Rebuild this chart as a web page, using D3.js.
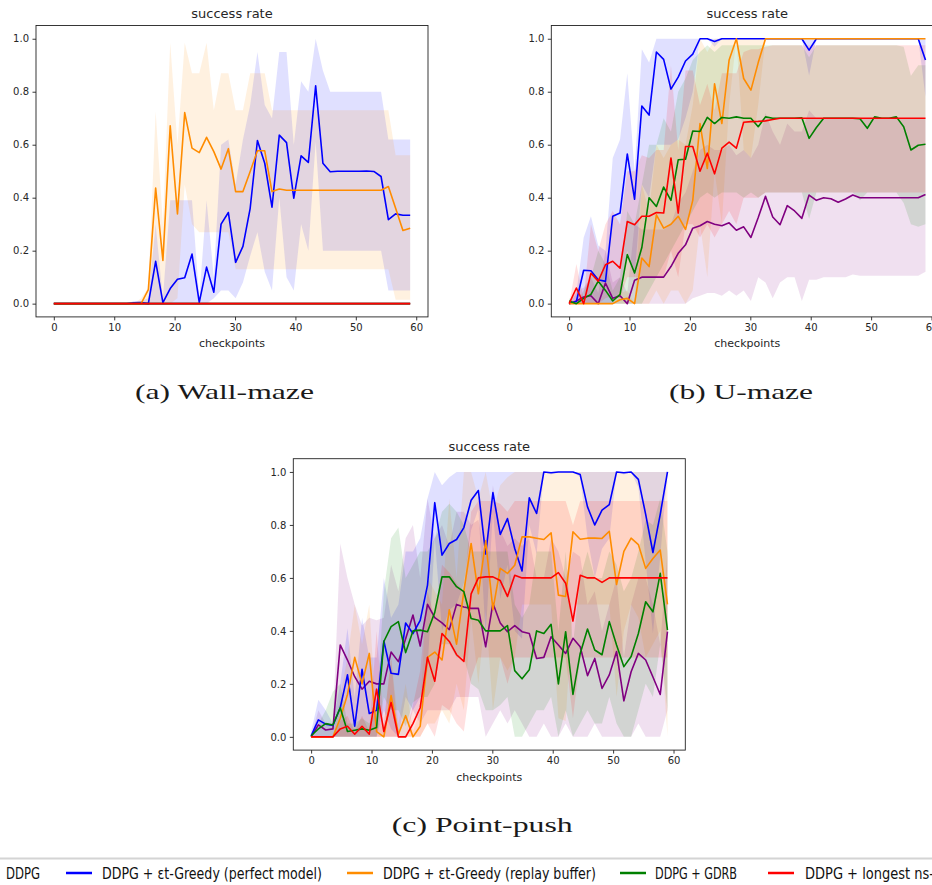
<!DOCTYPE html>
<html>
<head>
<meta charset="utf-8">
<script src="https://cdn.jsdelivr.net/npm/d3@7"></script>
<style>
  html, body { margin: 0; padding: 0; background: #fff; }
  svg { display: block; }
</style>
</head>
<body>
<div id="chart"></div>
<script>
// x positions of the 50 logged checkpoints
const checkpoints = [0, 1.2, 2.41, 3.61, 4.82, 6.02, 7.22, 8.43, 9.63, 10.84,
  12.04, 13.24, 14.45, 15.65, 16.86, 18.06, 19.27, 20.47, 21.67, 22.88,
  24.08, 25.29, 26.49, 27.69, 28.9, 30.1, 31.31, 32.51, 33.71, 34.92,
  36.12, 37.33, 38.53, 39.73, 40.94, 42.14, 43.35, 44.55, 45.76, 46.96,
  48.16, 49.37, 50.57, 51.78, 52.98, 54.18, 55.39, 56.59, 57.8, 59];

const methods = ["DDPG", "DDPG + εt-Greedy (perfect model)", "DDPG + εt-Greedy (replay buffer)", "DDPG + GDRB", "DDPG + longest ns-"];
const colors = ["purple", "blue", "darkorange", "green", "red"];
const xTicks = [0, 10, 20, 30, 40, 50, 60];
const yTicks = [0, 0.2, 0.4, 0.6, 0.8, 1.0];
const captions = ["(a) Wall-maze", "(b) U-maze", "(c) Point-push"];

// ---- (a) Wall-maze ----
const wallFlat = [0,0,0,0,0,0,0,0,0,0, 0,0,0,0,0,0,0,0,0,0, 0,0,0,0,0,0,0,0,0,0,
  0,0,0,0,0,0,0,0,0,0, 0,0,0,0,0,0,0,0,0,0];
const wallBlue = [0,0,0,0,0,0,0,0,0,0,
  0,0.003,0.004,0,0.16,0.004,0.057,0.092,0.098,0.187,
  0.005,0.138,0.043,0.30,0.344,0.156,0.216,0.36,0.616,0.53,
  0.364,0.636,0.608,0.398,0.558,0.533,0.822,0.53,0.498,0.5,
  0.5,0.5,0.5,0.501,0.499,0.48,0.317,0.339,0.334,0.334];
const wallBlueLo = [0,0,0,0,0,0,0,0,0,0, 0,0,0,0,0,0,0,0,0,0,
  0,0,0.02,0.05,0.05,0.02,0.08,0.18,0.27,0.12,
  0.05,0.4,0.1,0.05,0.3,0.2,0.61,0.2,0.2,0.2,
  0.2,0.2,0.2,0.2,0.2,0.2,0.05,0.05,0.05,0.05];
const wallBlueHi = [0,0,0,0,0,0,0,0,0,0,
  0,0.01,0.01,0.02,0.3,0.02,0.39,0.39,0.39,0.39,
  0.02,0.39,0.1,0.6,0.62,0.45,0.62,0.75,0.95,0.75,
  0.7,0.95,0.95,0.6,0.84,0.8,1.0,0.88,0.8,0.8,
  0.8,0.8,0.8,0.8,0.8,0.8,0.62,0.62,0.62,0.62];
const wallOrange = [0,0,0,0,0,0,0,0,0,0,
  0,0,0,0.053,0.436,0.163,0.671,0.339,0.721,0.587,
  0.57,0.628,0.574,0.508,0.585,0.423,0.423,0.499,0.577,0.577,
  0.423,0.433,0.428,0.428,0.428,0.428,0.428,0.428,0.428,0.428,
  0.428,0.428,0.428,0.428,0.428,0.428,0.442,0.36,0.276,0.285];
const wallOrangeLo = [0,0,0,0,0,0,0,0,0,0,
  0,0,0,0,0,0,0,0.02,0.45,0.3,
  0.27,0.27,0.27,0.27,0.27,0.13,0.13,0.13,0.13,0.13,
  0.13,0.13,0.13,0.13,0.13,0.13,0.13,0.13,0.13,0.13,
  0.13,0.13,0.13,0.13,0.13,0.13,0.13,0.015,0.015,0.015];
const wallOrangeHi = [0,0,0,0,0,0,0,0,0,0,
  0,0,0.02,0.06,0.725,0.3,0.985,0.6,0.985,0.87,
  0.87,0.985,0.73,0.87,0.87,0.73,0.73,0.87,0.87,0.87,
  0.73,0.73,0.73,0.73,0.73,0.73,0.73,0.73,0.73,0.73,
  0.73,0.73,0.73,0.73,0.73,0.73,0.73,0.56,0.56,0.56];

// ---- (b) U-maze ----
const uDdpg = [0,0.01,0.025,0.03,0,0.078,0.02,0.03,0,0.088,
  0.1,0.1,0.1,0.1,0.14,0.19,0.222,0.285,0.294,0.31,
  0.3,0.294,0.305,0.277,0.29,0.25,0.325,0.405,0.327,0.298,
  0.37,0.35,0.322,0.41,0.39,0.4,0.396,0.383,0.395,0.41,
  0.4,0.4,0.4,0.4,0.4,0.4,0.4,0.4,0.4,0.412];
const uDdpgLo = [0,0,0,0,0,0,0,0,0,0,
  0,0,0,0,0,0,0,0.02,0.03,0.04,
  0.04,0.03,0.05,0.03,0.05,0.01,0.1,0.08,0.02,0.08,
  0.1,0.1,0.01,0.09,0.09,0.1,0.1,0.1,0.1,0.11,
  0.105,0.105,0.105,0.105,0.105,0.105,0.105,0.105,0.105,0.12];
const uDdpgHi = [0,0.05,0.06,0.1,0.04,0.2,0.08,0.1,0.04,0.3,
  0.28,0.28,0.28,0.28,0.3,0.38,0.42,0.5,0.58,0.6,
  0.58,0.58,0.6,0.56,0.58,0.55,0.6,0.72,0.65,0.6,
  0.68,0.65,0.65,0.73,0.7,0.7,0.7,0.7,0.7,0.7,
  0.7,0.7,0.7,0.7,0.7,0.7,0.7,0.7,0.7,0.7];
const uBlue = [0,0.008,0.126,0.124,0.09,0.084,0.33,0.342,0.565,0.394,
  0.746,0.712,0.95,0.922,0.81,0.855,0.916,0.942,1,1,
  0.99,1,1,1,1,1,1,1,1,1,
  1,1,1,0.957,1,1,1,1,1,1,
  1,1,1,1,1,1,1,1,1,0.92];
const uBlueLo = [0,0,0,0,0,0,0,0.05,0.2,0.1,
  0.45,0.4,0.6,0.6,0.6,0.62,0.7,0.8,1,1,
  0.97,1,1,1,1,1,1,1,1,1,
  1,1,1,0.86,1,1,1,1,1,1,
  1,1,1,1,1,1,1,1,1,0.78];
const uBlueHi = [0,0.04,0.25,0.33,0.22,0.2,0.55,0.62,0.87,0.5,
  0.96,0.91,1,1,1,1,1,1,1,1,
  1,1,1,1,1,1,1,1,1,1,
  1,1,1,1,1,1,1,1,1,1,
  1,1,1,1,1,1,1,1,1,1];
const uOrange = [0,0,0,0,0,0,0,0.015,0.02,0,
  0.172,0.14,0.335,0.285,0.3,0.33,0.28,0.39,0.68,0.51,
  0.83,0.68,0.92,1,0.85,0.806,0.91,1,1,1,
  1,1,1,1,1,1,1,1,1,1,
  1,1,1,1,1,1,1,1,1,1];
const uOrangeLo = [0,0,0,0,0,0,0,0,0,0,
  0,0,0.05,0,0.05,0.05,0,0.05,0.3,0.1,
  0.5,0.3,0.75,1,0.58,0.55,0.75,1,1,1,
  1,1,1,1,1,1,1,1,1,1,
  1,1,1,1,1,1,1,1,1,1];
const uOrangeHi = [0,0,0,0,0,0,0,0.04,0.05,0,
  0.45,0.35,0.6,0.55,0.6,0.62,0.6,0.75,1,0.95,
  1,1,1,1,1,1,1,1,1,1,
  1,1,1,1,1,1,1,1,1,1,
  1,1,1,1,1,1,1,1,1,1];
const uGreen = [0.01,0,0.02,0.035,0.085,0.05,0.01,0.035,0.185,0.116,
  0.212,0.4,0.367,0.44,0.39,0.543,0.545,0.652,0.65,0.703,
  0.68,0.703,0.7,0.705,0.7,0.7,0.668,0.705,0.7,0.7,
  0.7,0.7,0.702,0.624,0.665,0.7,0.7,0.7,0.7,0.7,
  0.698,0.662,0.705,0.7,0.7,0.705,0.668,0.58,0.598,0.602];
const uGreenLo = [0,0,0,0,0,0,0,0,0,0,
  0,0.05,0.1,0.15,0.2,0.25,0.3,0.35,0.4,0.42,
  0.4,0.42,0.42,0.42,0.4,0.42,0.4,0.42,0.42,0.42,
  0.42,0.42,0.42,0.32,0.42,0.42,0.42,0.42,0.42,0.42,
  0.39,0.42,0.42,0.42,0.42,0.42,0.38,0.3,0.29,0.3];
const uGreenHi = [0.02,0,0.05,0.1,0.2,0.15,0.05,0.1,0.35,0.3,
  0.45,0.6,0.6,0.7,0.65,0.8,0.85,0.92,0.95,0.975,
  0.95,0.975,0.975,0.975,0.975,0.975,0.975,0.975,0.975,0.975,
  0.975,0.975,0.975,0.93,0.975,0.975,0.975,0.975,0.975,0.975,
  0.975,0.975,0.975,0.975,0.975,0.975,0.97,0.86,0.9,0.9];
const uRed = [0,0.059,0,0.115,0.085,0.147,0.16,0.134,0.31,0.298,
  0.33,0.33,0.344,0.342,0.55,0.342,0.593,0.593,0.5,0.568,
  0.49,0.587,0.61,0.587,0.685,0.687,0.688,0.69,0.695,0.7,
  0.7,0.7,0.7,0.7,0.7,0.7,0.7,0.7,0.7,0.7,
  0.7,0.7,0.7,0.7,0.7,0.7,0.7,0.7,0.7,0.7];
const uRedLo = [0,0,0,0,0,0.02,0.03,0.02,0.1,0.1,
  0.1,0.1,0.1,0.1,0.2,0.1,0.3,0.3,0.25,0.3,
  0.25,0.3,0.35,0.3,0.4,0.4,0.4,0.42,0.42,0.42,
  0.42,0.42,0.42,0.42,0.42,0.42,0.42,0.42,0.42,0.42,
  0.42,0.42,0.42,0.42,0.42,0.42,0.42,0.42,0.42,0.42];
const uRedHi = [0,0.15,0.02,0.3,0.2,0.3,0.35,0.3,0.5,0.5,
  0.56,0.55,0.58,0.58,0.9,0.58,0.88,0.88,0.75,0.83,
  0.73,0.87,0.87,0.87,0.95,0.96,0.96,0.97,0.975,0.975,
  0.975,0.975,0.975,0.975,0.975,0.975,0.975,0.975,0.975,0.975,
  0.975,0.975,0.975,0.975,0.975,0.975,0.975,0.975,0.975,0.975];

// ---- (c) Point-push ----
const pDdpg = [0,0.045,0.026,0.03,0.347,0.29,0.227,0.18,0.21,0.2,
  0.2,0.32,0.284,0.37,0.46,0.343,0.5,0.45,0.43,0.405,
  0.5,0.49,0.485,0.485,0.34,0.504,0.43,0.397,0.42,0.397,
  0.39,0.296,0.3,0.378,0.347,0.315,0.372,0.34,0.231,0.296,
  0.183,0.234,0.322,0.136,0.246,0.315,0.29,0.226,0.16,0.397];
const pDdpgLo = [0,0,0,0,0,0,0,0,0,0,
  0,0,0,0,0.1,0.05,0.1,0.1,0.1,0.1,
  0.15,0.15,0.15,0.15,0,0.05,0.1,0.05,0.1,0.05,
  0,0,0.05,0,0,0.05,0,0,0,0.05,
  0,0,0,0,0,0.05,0,0,0,0.1];
const pDdpgHi = [0,0.1,0.05,0.05,0.73,0.6,0.5,0.42,0.45,0.44,
  0.45,0.65,0.55,0.75,0.8,0.6,0.9,0.75,0.8,0.72,
  0.85,0.85,0.8,0.82,0.68,0.95,0.78,0.72,0.75,0.72,
  0.75,0.6,0.6,0.75,0.7,0.6,0.7,0.68,0.5,0.55,
  0.4,0.5,0.6,0.3,0.5,0.6,0.6,0.5,0.35,0.7];
const pBlue = [0.004,0.064,0.048,0.043,0.11,0.234,0.04,0.255,0.088,0.1,
  0.362,0.24,0.236,0.43,0.39,0.44,0.573,0.884,0.686,0.73,
  0.745,0.79,0.893,0.93,0.69,0.922,0.764,0.824,0.711,0.626,
  0.902,0.843,1,0.997,1,1,1,0.99,0.868,0.8,
  0.856,0.877,1,0.997,1,0.972,0.84,0.696,0.84,1];
const pBlueLo = [0,0,0,0,0,0,0,0,0,0,
  0.1,0.03,0,0.15,0.1,0.15,0.25,0.75,0.4,0.48,
  0.5,0.58,0.78,0.86,0.38,0.85,0.52,0.65,0.4,0.37,
  0.8,0.69,1,0.99,1,1,1,0.98,0.75,0.6,
  0.71,0.75,1,0.99,1,0.94,0.66,0.39,0.68,1];
const pBlueHi = [0.02,0.14,0.1,0.05,0.2,0.41,0.15,0.45,0.3,0.3,
  0.6,0.45,0.5,0.7,0.7,0.75,0.9,1,0.95,0.98,
  1,1,1,1,1,1,1,1,1,1,
  1,1,1,1,1,1,1,1,1,1,
  1,1,1,1,1,1,1,1,1,1];
const pOrange = [0,0,0,0,0.07,0.16,0.3,0.2,0.315,0.02,
  0,0.156,0.01,0.08,0,0.04,0.3,0.32,0.29,0.48,
  0.35,0.55,0.73,0.54,0.74,0.48,0.636,0.617,0.648,0.755,
  0.755,0.75,0.745,0.77,0.535,0.53,0.774,0.746,0.75,0.75,
  0.749,0.776,0.575,0.7,0.75,0.726,0.636,0.673,0.705,0.5];
const pOrangeLo = [0,0,0,0,0,0,0,0,0,0,
  0,0,0,0,0,0,0.05,0.05,0.1,0.05,
  0.2,0.1,0.45,0.2,0.48,0.1,0.3,0.25,0.3,0.5,
  0.5,0.5,0.5,0.5,0.07,0.06,0.5,0.5,0.5,0.5,
  0.5,0.5,0.15,0.4,0.5,0.45,0.3,0.35,0.4,0];
const pOrangeHi = [0,0,0,0,0.15,0.3,0.5,0.35,0.5,0.05,
  0.05,0.3,0.05,0.2,0.02,0.1,0.6,0.55,0.5,0.9,
  0.6,1,1,0.9,1,0.85,0.95,0.98,1,1,
  1,1,1,1,1,1,1,1,1,1,
  1,1,1,1,1,1,1,1,1,1];
const pGreen = [0.004,0.03,0.05,0.045,0.11,0.02,0.025,0.03,0.025,0.035,
  0.36,0.416,0.435,0.318,0.4,0.403,0.397,0.47,0.604,0.604,
  0.567,0.548,0.447,0.44,0.4,0.4,0.4,0.42,0.25,0.219,
  0.253,0.4,0.39,0.425,0.2,0.397,0.16,0.315,0.407,0.328,
  0.31,0.435,0.347,0.265,0.303,0.39,0.51,0.472,0.617,0.403];
const pGreenLo = [0,0,0,0,0,0,0,0,0,0,
  0.15,0.1,0.1,0.04,0.13,0.15,0.15,0.2,0.35,0.35,
  0.3,0.3,0.2,0.18,0.1,0.1,0.12,0.15,0,0,
  0.05,0.1,0.1,0.15,0,0.1,0,0.05,0.1,0.05,
  0.05,0.15,0.05,0,0,0.1,0.2,0.15,0.35,0.1];
const pGreenHi = [0,0.05,0.1,0.17,0.2,0.05,0.05,0.07,0.05,0.1,
  0.55,0.75,0.79,0.6,0.65,0.7,0.7,0.75,0.85,0.88,
  0.85,0.8,0.7,0.7,0.7,0.7,0.7,0.7,0.5,0.45,
  0.5,0.7,0.7,0.7,0.4,0.7,0.35,0.6,0.7,0.6,
  0.6,0.7,0.65,0.55,0.6,0.7,0.82,0.8,0.9,0.7];
const pRed = [0,0,0,0,0.03,0.04,0.01,0.04,0.01,0.18,
  0.02,0.13,0,0,0.05,0.11,0.3,0.21,0.39,0.36,
  0.31,0.285,0.54,0.6,0.604,0.604,0.59,0.53,0.61,0.6,
  0.6,0.6,0.6,0.6,0.62,0.58,0.437,0.61,0.6,0.6,
  0.583,0.6,0.6,0.6,0.6,0.6,0.6,0.6,0.6,0.6];
const pRedLo = [0,0,0,0,0,0,0,0,0,0,
  0,0,0,0,0,0,0.05,0,0.12,0.1,
  0.05,0.02,0.22,0.3,0.3,0.3,0.3,0.2,0.3,0.3,
  0.3,0.3,0.3,0.3,0.3,0.3,0.07,0.3,0.3,0.3,
  0.3,0.3,0.3,0.3,0.3,0.3,0.3,0.3,0.3,0.3];
const pRedHi = [0,0,0,0,0.06,0.08,0.02,0.08,0.02,0.4,
  0.05,0.3,0,0,0.12,0.25,0.55,0.45,0.65,0.62,
  0.58,0.55,0.85,0.89,0.89,0.89,0.88,0.85,0.89,0.89,
  0.89,0.89,0.89,0.89,0.89,0.89,0.8,0.89,0.89,0.89,
  0.89,0.89,0.89,0.89,0.89,0.89,0.89,0.89,0.89,0.89];

// [mean, low, high] per method, same order as methods
const panelSeries = [
  [[wallFlat, wallFlat, wallFlat], [wallBlue, wallBlueLo, wallBlueHi], [wallOrange, wallOrangeLo, wallOrangeHi],
   [wallFlat, wallFlat, wallFlat], [wallFlat, wallFlat, wallFlat]],
  [[uDdpg, uDdpgLo, uDdpgHi], [uBlue, uBlueLo, uBlueHi], [uOrange, uOrangeLo, uOrangeHi],
   [uGreen, uGreenLo, uGreenHi], [uRed, uRedLo, uRedHi]],
  [[pDdpg, pDdpgLo, pDdpgHi], [pBlue, pBlueLo, pBlueHi], [pOrange, pOrangeLo, pOrangeHi],
   [pGreen, pGreenLo, pGreenHi], [pRed, pRedLo, pRedHi]]
];

const W = 932, H = 885;
const boxW = 392, boxH = 291.4;
const layout = [
  { left: 36, top: 25.5, capX: 135, capW: 179, capY: 399 },
  { left: 551.3, top: 25.5, capX: 669, capW: 144, capY: 399 },
  { left: 293.3, top: 458.7, capX: 391.7, capW: 181, capY: 832 }
];

const svg = d3.select("#chart").append("svg")
  .attr("width", W)
  .attr("height", H)
  .style("font-family", "'DejaVu Sans', sans-serif");

svg.append("rect").attr("width", W).attr("height", H).attr("fill", "#fff");

layout.forEach((p, k) => {
  const x = d3.scaleLinear().domain([-2.95, 61.95]).range([p.left, p.left + boxW]);
  const y = d3.scaleLinear().domain([-0.05, 1.05]).range([p.top + boxH, p.top]);
  const g = svg.append("g");

  g.append("clipPath").attr("id", "clip" + k)
    .append("rect").attr("x", p.left).attr("y", p.top).attr("width", boxW).attr("height", boxH);

  const plot = g.append("g").attr("clip-path", `url(#clip${k})`);

  const area = d3.area()
    .x((d, i) => x(checkpoints[i]))
    .y0(d => y(d[0]))
    .y1(d => y(d[1]));
  const line = d3.line()
    .x((d, i) => x(checkpoints[i]))
    .y(d => y(d));

  panelSeries[k].forEach((s, j) => {
    plot.append("path")
      .datum(d3.zip(s[1], s[2]))
      .attr("d", area)
      .attr("fill", colors[j])
      .attr("fill-opacity", 0.12);
  });
  panelSeries[k].forEach((s, j) => {
    plot.append("path")
      .datum(s[0])
      .attr("d", line)
      .attr("fill", "none")
      .attr("stroke", colors[j])
      .attr("stroke-width", 1.6)
      .attr("stroke-linejoin", "round");
  });

  // axes
  const xAxis = g.append("g")
    .attr("transform", `translate(0,${p.top + boxH})`)
    .call(d3.axisBottom(x).tickValues(xTicks).tickSize(3.5).tickPadding(3.5).tickFormat(d3.format("d")));
  const yAxis = g.append("g")
    .attr("transform", `translate(${p.left},0)`)
    .call(d3.axisLeft(y).tickValues(yTicks).tickSize(3.5).tickPadding(3.5).tickFormat(d3.format(".1f")));
  [xAxis, yAxis].forEach(a => {
    a.select(".domain").remove();
    a.selectAll("line").attr("stroke", "#222").attr("stroke-width", 0.9);
    a.selectAll("text")
      .attr("font-family", "'DejaVu Sans', sans-serif")
      .attr("font-size", 10)
      .attr("fill", "#262626");
  });

  g.append("rect")
    .attr("x", p.left).attr("y", p.top)
    .attr("width", boxW).attr("height", boxH)
    .attr("fill", "none")
    .attr("stroke", "#222")
    .attr("stroke-width", 0.9);

  g.append("text")
    .attr("x", p.left + boxW / 2).attr("y", p.top - 7.5)
    .attr("text-anchor", "middle")
    .attr("font-size", 13)
    .attr("fill", "#262626")
    .text("success rate");

  g.append("text")
    .attr("x", p.left + boxW / 2).attr("y", p.top + boxH + 30.5)
    .attr("text-anchor", "middle")
    .attr("font-size", 11)
    .attr("fill", "#262626")
    .text("checkpoints");

  svg.append("text")
    .attr("x", p.capX).attr("y", p.capY)
    .attr("font-family", "'Liberation Serif', 'DejaVu Serif', serif")
    .attr("font-size", 22)
    .attr("textLength", p.capW)
    .attr("lengthAdjust", "spacingAndGlyphs")
    .attr("fill", "#1a1a1a")
    .text(captions[k]);
});

// legend strip at the bottom (cropped on both sides like the source)
svg.append("line")
  .attr("x1", 0).attr("x2", W)
  .attr("y1", 858.5).attr("y2", 858.5)
  .attr("stroke", "#d4d4d4")
  .attr("stroke-width", 2);

const legendPos = [
  { lx: -36, tx: 6, tw: 34 },
  { lx: 66, tx: 102, tw: 220 },
  { lx: 347, tx: 383, tw: 213 },
  { lx: 620, tx: 655, tw: 82 },
  { lx: 768, tx: 805, tw: 129 }
];
const legend = svg.append("g");
methods.forEach((m, j) => {
  const lp = legendPos[j];
  legend.append("line")
    .attr("x1", lp.lx).attr("x2", lp.lx + 26)
    .attr("y1", 873).attr("y2", 873)
    .attr("stroke", colors[j])
    .attr("stroke-width", 2.5);
  legend.append("text")
    .attr("x", lp.tx).attr("y", 879)
    .attr("font-family", "'DejaVu Sans Condensed', 'DejaVu Sans', sans-serif")
    .attr("font-stretch", "condensed")
    .attr("font-size", 15.5)
    .attr("textLength", lp.tw)
    .attr("lengthAdjust", "spacingAndGlyphs")
    .attr("fill", "#111")
    .text(m);
});
</script>
</body>
</html>
